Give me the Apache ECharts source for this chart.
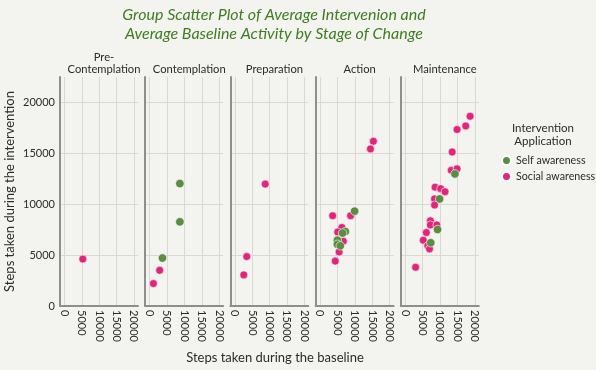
<!DOCTYPE html>
<html><head><meta charset="utf-8">
<script src="https://cdn.jsdelivr.net/npm/echarts@6/dist/echarts.min.js"></script>
<style>html,body{margin:0;padding:0;background:#f3f3ef}#c{width:596px;height:370px}</style>
</head><body><div id="c"></div><script>
// ---- data ----
var stages = ['Pre-\nContemplation', 'Contemplation', 'Preparation', 'Action', 'Maintenance'];
var groups = ['Self awareness', 'Social awareness'];
var xTicks = [0, 5000, 10000, 15000, 20000];
var yTicks = [0, 5000, 10000, 15000, 20000];
// [baseline steps, intervention steps]
var preSelf = [];
var preSocial = [[5300, 4600]];
var contSelf = [[8700, 12000], [8700, 8250], [3700, 4700]];
var contSocial = [[2900, 3500], [1100, 2200]];
var prepSelf = [];
var prepSocial = [[8750, 11950], [3450, 4850], [2600, 3050]];
var actSelf = [[9950, 9300], [7300, 7300], [6500, 7150], [5000, 6450], [5000, 6050], [5850, 5900]];
var actSocial = [[15350, 16150], [14500, 15400], [3650, 8850], [8800, 8850], [6300, 7700], [5100, 7250], [6700, 6350], [5500, 5300], [4400, 4400]];
var maintSelf = [[14300, 12950], [9900, 10500], [9300, 7500], [7350, 6200]];
var maintSocial = [[18650, 18600], [17400, 17650], [14900, 17300], [13500, 15100], [13250, 13300], [14900, 13450], [8600, 11650], [10200, 11500], [11450, 11200], [8450, 10500], [8450, 9900], [7250, 8350], [7250, 7950], [9100, 7950], [6100, 7200], [5200, 6450], [6500, 5900], [7000, 5600], [3000, 3800]];
var selfData = [preSelf, contSelf, prepSelf, actSelf, maintSelf];
var socialData = [preSocial, contSocial, prepSocial, actSocial, maintSocial];

// ---- styling / layout ----
var FONT = 'Lato';
var GREEN = '#5b8d41', PINK = '#e0267a';
var AXIS = '#8e8e8a', GRIDC = '#d9d9d2', TXT = '#2b2b2b';
var gLeft0 = 60, gStep = 85.2, gW = 78, gTop = 77, gH = 229;

var grids = [], xAxes = [], yAxes = [], series = [], titles = [];
titles.push({
  text: 'Group Scatter Plot of Average Intervenion and\nAverage Baseline Activity by Stage of Change',
  left: 269, top: 0, textAlign: 'center',
  textStyle: {fontFamily: FONT, fontStyle: 'italic', fontWeight: 'normal', fontSize: 16, lineHeight: 19, color: '#3f7d22'}
});
titles.push({
  text: 'Steps taken during the baseline', left: 270, top: 346, textAlign: 'center',
  textStyle: {fontFamily: FONT, fontWeight: 'normal', fontSize: 13, color: TXT}
});
titles.push({
  text: 'Intervention\nApplication', left: 538, top: 117, textAlign: 'center',
  textStyle: {fontFamily: FONT, fontWeight: 'normal', fontSize: 11.5, lineHeight: 13, color: TXT}
});
stages.forEach(function (s, i) {
  var l = gLeft0 + i * gStep;
  grids.push({left: l, top: gTop, width: gW, height: gH});
  var two = s.indexOf('\n') >= 0;
  titles.push({
    text: s, left: l + gW / 2, top: two ? 46 : 58, textAlign: 'center',
    textStyle: {fontFamily: FONT, fontWeight: 'normal', fontSize: 11.2, lineHeight: 12, color: TXT}
  });
  xAxes.push({
    type: 'value', gridIndex: i, min: -1250, max: 21150, splitNumber: 5,
    axisLine: {show: true, onZero: false, lineStyle: {color: AXIS, width: 2}},
    axisTick: {show: false},
    axisLabel: {rotate: -90, margin: 4, fontFamily: FONT, fontSize: 11, color: TXT,
      formatter: function (v) { return xTicks.indexOf(v) >= 0 ? String(v) : ''; }},
    splitLine: {show: true, showMinLine: false, showMaxLine: false, lineStyle: {color: GRIDC, width: 1}}
  });
  yAxes.push({
    type: 'value', gridIndex: i, min: 0, max: 22450, splitNumber: 5,
    name: i === 0 ? 'Steps taken during the intervention' : '',
    nameLocation: 'middle', nameGap: 44,
    nameTextStyle: {fontFamily: FONT, fontSize: 13, color: TXT},
    axisLine: {show: true, onZero: false, lineStyle: {color: AXIS, width: 2}},
    axisTick: {show: false},
    axisLabel: {show: i === 0, margin: 5, fontFamily: FONT, fontSize: 11, color: TXT,
      formatter: function (v) { return yTicks.indexOf(v) >= 0 ? String(v) : ''; }},
    splitLine: {show: true, showMinLine: false, showMaxLine: false, lineStyle: {color: GRIDC, width: 1}}
  });
  series.push({
    name: groups[1], type: 'scatter', xAxisIndex: i, yAxisIndex: i, data: socialData[i],
    symbolSize: 8, itemStyle: {color: PINK, borderColor: '#fff', borderWidth: 0.6, opacity: 1}
  });
  series.push({
    name: groups[0], type: 'scatter', xAxisIndex: i, yAxisIndex: i, data: selfData[i],
    symbolSize: 8.5, itemStyle: {color: GREEN, borderColor: '#fff', borderWidth: 0.6, opacity: 1}
  });
});

var chart = echarts.init(document.getElementById('c'), null, {renderer: 'canvas'});
chart.setOption({
  backgroundColor: '#f3f3ef',
  animation: false,
  title: titles,
  grid: grids, xAxis: xAxes, yAxis: yAxes, series: series,
  legend: {
    data: groups, orient: 'vertical', left: 496, top: 150, padding: 5, itemWidth: 9, itemHeight: 9, itemGap: 5,
    icon: 'circle',
    textStyle: {fontFamily: FONT, fontSize: 10.7, color: TXT}
  }
});
</script></body></html>
